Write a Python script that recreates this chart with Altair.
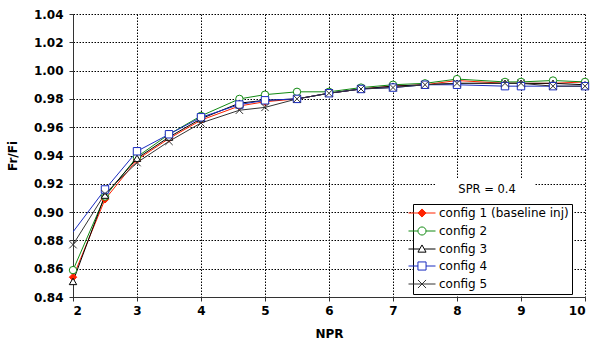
import altair as alt
import pandas as pd

# ---- data ----
npr = [2, 2.5, 3, 3.5, 4, 4.6, 5, 5.5, 6, 6.5, 7, 7.5, 8, 8.75, 9, 9.5, 10]
series_names = ["config 1 (baseline inj)", "config 2", "config 3", "config 4", "config 5"]
cfg1 = [0.854, 0.909, 0.937, 0.952, 0.965, 0.975, 0.978, 0.980, 0.984, 0.987, 0.989, 0.990, 0.993, 0.991, 0.991, 0.991, 0.992]
cfg2 = [0.859, 0.911, 0.939, 0.955, 0.968, 0.980, 0.983, 0.985, 0.985, 0.988, 0.990, 0.991, 0.994, 0.992, 0.992, 0.993, 0.992]
cfg3 = [0.851, 0.912, 0.938, 0.953, 0.966, 0.977, 0.979, 0.980, 0.984, 0.987, 0.989, 0.990, 0.991, 0.991, 0.991, 0.991, 0.990]
cfg4 = [0.886, 0.916, 0.943, 0.955, 0.967, 0.976, 0.979, 0.980, 0.984, 0.987, 0.988, 0.990, 0.990, 0.989, 0.989, 0.989, 0.989]
cfg5 = [0.877, 0.913, 0.935, 0.950, 0.963, 0.972, 0.974, 0.980, 0.984, 0.987, 0.988, 0.990, 0.991, 0.991, 0.991, 0.989, 0.989]

x_ticks = [2, 3, 4, 5, 6, 7, 8, 9, 10]
y_ticks = [0.84, 0.86, 0.88, 0.90, 0.92, 0.94, 0.96, 0.98, 1.00, 1.02, 1.04]

note_text = ["SPR = 0.4"]
note_x = [8.47]
note_y = [0.9156]
# white box behind the annotation (NPR / ratio extents)
note_box_x = [7.66]
note_box_x2 = [9.22]
note_box_y = [0.8985]
note_box_y2 = [0.924]

# ---- styling ----
line_colors = ["#ff2200", "#128a12", "#000000", "#1a2cc0", "#333333"]
fill_colors = ["#ff2200", "#ffffff", "#ffffff", "#ffffff", "#ffffff"]
marker_shapes = ["diamond", "circle", "triangle-up", "square", "M-1,-1L1,1M-1,1L1,-1"]
marker_sizes = [55, 55, 70, 90, 70]
legend_shapes = [
    "M-3,0H3M0,-0.9L0.9,0L0,0.9L-0.9,0Z",
    "M-3,0H-0.9M0.9,0H3M-0.9,0A0.9,0.9 0 1,0 0.9,0A0.9,0.9 0 1,0 -0.9,0Z",
    "M-3,0H-0.5M0.5,0H3M0,-0.9L0.9,0.7L-0.9,0.7Z",
    "M-3,0H-0.9M0.9,0H3M-0.9,-0.9H0.9V0.9H-0.9Z",
    "M-3,0H3M-0.9,-0.9L0.9,0.9M-0.9,0.9L0.9,-0.9",
]

rows = []
for name, vals in zip(series_names, [cfg1, cfg2, cfg3, cfg4, cfg5]):
    for xv, yv in zip(npr, vals):
        rows.append({"series": name, "NPR": xv, "ratio": yv})
df = pd.DataFrame(rows)
notes = pd.DataFrame({"text": note_text, "NPR": note_x, "ratio": note_y})
boxes = pd.DataFrame({"NPR": note_box_x, "NPR2": note_box_x2,
                      "ratio": note_box_y, "ratio2": note_box_y2})

FONT = "DejaVu Sans"

xenc = alt.X("NPR:Q", scale=alt.Scale(domain=[2, 10], nice=False),
             axis=alt.Axis(values=x_ticks, title="NPR", format="d"))
yenc = alt.Y("ratio:Q", scale=alt.Scale(domain=[0.84, 1.04], nice=False, zero=False),
             axis=alt.Axis(values=y_ticks, title="Fr/Fi", format=".2f"))

col_scale = alt.Scale(domain=series_names, range=line_colors)
fill_scale = alt.Scale(domain=series_names, range=fill_colors)

base = alt.Chart(df)

box = alt.Chart(boxes).mark_rect(color="white").encode(
    x=xenc, x2="NPR2:Q", y=yenc, y2="ratio2:Q")

lines = base.mark_line(strokeWidth=1, clip=True).encode(
    x=xenc, y=yenc,
    color=alt.Color("series:N", scale=col_scale, legend=None),
    order=alt.Order("NPR:Q"),
)

points = base.mark_point(strokeWidth=1, opacity=1, filled=False).encode(
    x=xenc, y=yenc,
    color=alt.Color("series:N", scale=col_scale, legend=None),
    fill=alt.Fill("series:N", scale=fill_scale, legend=None),
    shape=alt.Shape("series:N", scale=alt.Scale(domain=series_names, range=marker_shapes), legend=None),
    size=alt.Size("series:N", scale=alt.Scale(domain=series_names, range=marker_sizes), legend=None),
).transform_filter("datum.series != 'config 4' || datum.NPR > 2")

leg = alt.Legend(
    title=None, orient="none", legendX=340, legendY=190,
    labelFont=FONT, labelFontSize=12, labelColor="black",
    labelOffset=11, symbolSize=81, symbolStrokeWidth=1,
    strokeColor="black", fillColor="white", padding=3,
    rowPadding=4, symbolOpacity=1, labelLimit=300,
)

legend_layer = base.mark_point(strokeWidth=1, opacity=0, size=81, filled=False).encode(
    x=xenc, y=yenc,
    color=alt.Color("series:N", scale=col_scale, legend=leg),
    fill=alt.Fill("series:N", scale=fill_scale, legend=leg),
    shape=alt.Shape("series:N", scale=alt.Scale(domain=series_names, range=legend_shapes), legend=leg),
)

note = alt.Chart(notes).mark_text(font=FONT, fontSize=11.5, color="black",
                                  align="center", baseline="middle").encode(
    x=xenc, y=yenc, text="text:N")

chart = alt.layer(box, lines, points, legend_layer, note).resolve_scale(
    color="independent", fill="independent", shape="independent", size="independent"
).properties(
    width=512, height=283,
    autosize=alt.AutoSizeParams(type="none"),
    padding={"left": 73, "top": 14, "right": 9, "bottom": 46},
    background="white",
).configure_view(stroke=None).configure_axis(
    labelFont=FONT, labelFontWeight="bold", labelFontSize=12, labelColor="black",
    titleFont=FONT, titleFontWeight="bold", titleFontSize=12, titleColor="black",
    grid=True, gridColor="black", gridDash=[1.5, 1.5], gridWidth=1, gridOpacity=1,
    domainColor="#333333", domainWidth=1, tickColor="#333333", tickSize=4,
).configure_axisX(labelPadding=4, titlePadding=12).configure_axisY(labelPadding=6, titlePadding=14)

chart.save("out.html", embed_options={"renderer": "svg", "actions": False})
